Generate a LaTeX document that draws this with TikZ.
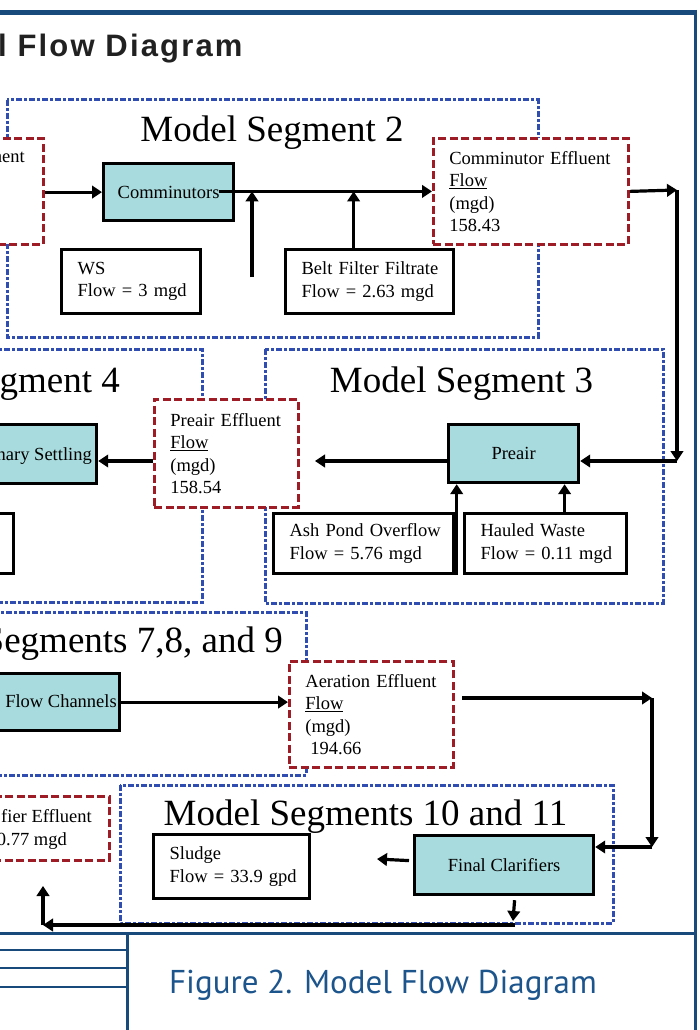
\documentclass[tikz,border=0pt]{standalone}
\usepackage{fontspec}
\setmainfont{Liberation Serif}
\newfontfamily\headfont[LetterSpace=7]{Liberation Sans}
\newfontfamily\figfont{PT Sans}
\usetikzlibrary{arrows.meta}
\definecolor{frameblue}{RGB}{24,74,124}
\definecolor{figblue}{RGB}{28,84,140}
\definecolor{segblue}{RGB}{48,78,178}
\definecolor{effred}{RGB}{158,28,38}
\definecolor{procfill}{RGB}{168,219,221}
\newcommand\boxfont{\fontsize{18.5}{22.5}\selectfont}
\begin{document}
\begin{tikzpicture}[x=1pt,y=-1pt,
  seg/.style={draw=segblue, line width=3pt, dash pattern=on 6pt off 2pt on 3pt off 2pt},
  effbox/.style={draw=effred, fill=white, line width=2.8pt, dash pattern=on 8pt off 3.5pt, inner xsep=16pt, inner ysep=0pt, align=left, font=\boxfont, anchor=north west},
  procbox/.style={draw=black, fill=procfill, line width=3.2pt, font=\boxfont, anchor=north west},
  inbox/.style={draw=black, fill=white, line width=3.2pt, inner xsep=16pt, inner ysep=0pt, align=left, font=\boxfont, anchor=north west},
  boxtext/.style={font=\boxfont, inner sep=0pt},
  seglabel/.style={font=\fontsize{37}{40}\selectfont, inner sep=0pt},
  arr/.style={line width=3.2pt, -{Triangle[length=10pt,width=12.5pt]}},
  frame/.style={draw=frameblue}
]
\useasboundingbox (0,0) rectangle (699,1030);

% ---------- page frame ----------
\draw[frame, line width=5pt] (-5,12.5) -- (697,12.5);
\draw[frame, line width=3pt] (695,10) -- (695,1035);
\draw[frame, line width=3pt] (-5,933) -- (695,933);
\draw[frame, line width=3pt] (127,933) -- (127,1035);
\foreach \yy in {950,968,987} \draw[frame, line width=2.5pt] (-5,\yy) -- (127,\yy);

\node[anchor=base west, inner sep=0pt, font=\headfont\bfseries\fontsize{31}{34}\selectfont, text=black!87] (title) at (-2,57) {l Flow Diagram};
\node[anchor=base, inner sep=0pt, font=\figfont\fontsize{33}{36}\selectfont, text=figblue] (figcap) at (383,993) {Figure 2. Model Flow Diagram};

% ---------- segment frames ----------
\draw[seg] (7,100) rectangle (538,337);
\draw[seg] (265,349) rectangle (663,603);
\draw[seg] (-10,349) rectangle (202,602);
\draw[seg] (-10,612) rectangle (306,775);
\draw[seg] (120,785) rectangle (613,923);

\node[seglabel, anchor=base] (lab2) at (272,141) {Model Segment 2};
\node[seglabel, anchor=base] (lab3) at (461.5,392) {Model Segment 3};
\node[seglabel, anchor=base east] (lab4) at (120,392) {gment 4};
\node[seglabel, anchor=base east] (lab789) at (283,652) {Segments 7,8, and 9};
\node[seglabel, anchor=base] (lab1011) at (365.5,825) {Model Segments 10 and 11};

% ---------- effluent (red dashed) boxes ----------
\node[effbox, minimum width=195pt, minimum height=106pt] (redL) at (-153,137) {};
\node[boxtext, anchor=base east] (redLtxt) at (25,162) {ment};
\node[effbox, minimum width=195pt, minimum height=106pt, text width=163pt] (ce) at (432,137)
  {\mbox{Comminutor Effluent}\\\underline{Flow}\\(mgd)\\158.43};
\node[effbox, minimum width=144pt, minimum height=108pt, text width=112pt] (pe) at (153,398)
  {\mbox{Preair Effluent}\\\underline{Flow}\\(mgd)\\158.54};
\node[effbox, minimum width=164pt, minimum height=106pt, text width=132pt] (ae) at (288,660)
  {\mbox{Aeration Effluent}\\\underline{Flow}\\(mgd)\\\hspace*{5pt}194.66};
\node[effbox, minimum width=208pt, minimum height=64pt] (cle) at (-100,795) {};
\node[boxtext, anchor=base east] (cletxt1) at (92,822) {fier Effluent};
\node[boxtext, anchor=base east] (cletxt2) at (67,845) {0.77 mgd};

% ---------- process boxes ----------
\node[procbox, minimum width=130pt, minimum height=57pt] (comm) at (102,162) {Comminutors};
\node[procbox, minimum width=130pt, minimum height=58pt] (preair) at (447,423) {Preair};
\node[procbox, minimum width=179pt, minimum height=59pt] (fcl) at (413,834) {Final Clarifiers};
\node[procbox, minimum width=135pt, minimum height=59pt] (ps) at (-40,423) {};
\node[boxtext, anchor=base east] (pstxt) at (92,460) {nary Settling};
\node[procbox, minimum width=158pt, minimum height=57pt] (fchan) at (-40,672) {};
\node[boxtext, anchor=base east] (fchantxt) at (117,707) {Flow Channels};

% ---------- input boxes ----------
\node[inbox, minimum width=139pt, minimum height=64pt, text width=107pt] (ws) at (60,248)
  {WS\\\mbox{Flow = 3 mgd}};
\node[inbox, minimum width=168pt, minimum height=64pt, text width=136pt] (belt) at (284,248)
  {\mbox{Belt Filter Filtrate}\\\mbox{Flow = 2.63 mgd}};
\node[inbox, minimum width=180pt, minimum height=60pt, text width=148pt] (ash) at (272,512)
  {\mbox{Ash Pond Overflow}\\\mbox{Flow = 5.76 mgd}};
\node[inbox, minimum width=162pt, minimum height=60pt, text width=130pt] (haul) at (463,512)
  {\mbox{Hauled Waste}\\\mbox{Flow = 0.11 mgd}};
\node[inbox, minimum width=156pt, minimum height=64pt, text width=124pt] (sludge) at (152,833)
  {Sludge\\\mbox{Flow = 33.9 gpd}};
\node[inbox, minimum width=23pt, minimum height=60pt] (lp) at (-20,512) {};

% ---------- connectors ----------
\draw[arr] (redL.east |- comm.west) -- (comm.west);
\coordinate (cstart) at ([xshift=-16pt]comm.east);
\draw[arr] (cstart |- ce.west) -- (ce.west);
\coordinate (wsj) at (252,277);
\draw[arr] (wsj) -- (wsj |- ce.west);
\coordinate (beltup) at ([xshift=-16pt]belt.north);
\draw[arr] (beltup) -- (beltup |- ce.west);

\coordinate (c1) at (677,190);
\coordinate (c2) at (677,461);
\draw[arr] (ce.east) -- (c1);
\draw[arr] (c1) -- (c2);
\draw[arr] (c2) -- (c2 -| preair.east);

\coordinate (k1) at (315,461);
\draw[arr] (preair.west |- k1) -- (k1);
\coordinate (ashup) at ([xshift=1.5pt]ash.south east);
\draw[arr] (ashup) -- (ashup |- preair.south);
\coordinate (haulup) at ([xshift=19pt]haul.north);
\draw[arr] (haulup) -- (haulup |- preair.south);

\coordinate (k2) at (152,461);
\draw[arr] (pe.west |- k2) -- (ps.east |- k2);

\draw[arr] (fchan.east) -- (ae.west |- fchan.east);

\coordinate (d0) at (462,698);
\coordinate (d1) at (652,698);
\coordinate (d2) at (652,847);
\draw[arr] (d0) -- (d1);
\draw[arr] (d1) -- (d2);
\draw[arr] (d2) -- (d2 -| fcl.east);

\coordinate (e0) at ([xshift=-4pt,yshift=4.5pt]fcl.west);
\coordinate (e1) at (377,859);
\draw[arr] (e0) -- (e1);

\coordinate (f0) at ([xshift=10.5pt,yshift=-4pt]fcl.south);
\coordinate (f1) at (513,921);
\draw[arr] (f0) -- (f1);
\coordinate (g0) at (515,925);
\coordinate (g1) at (43,925);
\coordinate (g2) at (43,886);
\draw[arr] (g0) -- (g1);
\draw[arr] (g1) -- (g2);
\end{tikzpicture}
\end{document}
